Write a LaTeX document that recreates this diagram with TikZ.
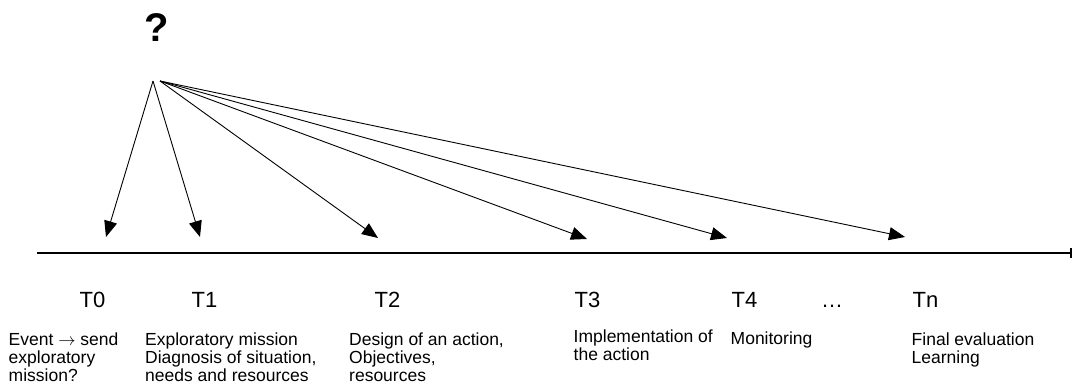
\documentclass[tikz,border=0pt]{standalone}
\usepackage{fontspec}
\setmainfont{Liberation Sans}
\usetikzlibrary{arrows.meta}

\tikzset{
    stage/.style={font=\fontsize{22}{25}\selectfont, inner sep=0pt, anchor=base west},
    info/.style={font=\fontsize{17.5}{18.3}\selectfont, inner sep=0pt, anchor=north west, align=left},
    pointer/.style={-{Triangle[length=16pt,width=13pt]}, line width=0.9pt},
}

\begin{document}
\begin{tikzpicture}[x=1pt,y=-1pt]
    \useasboundingbox (0,0) rectangle (1073,385);

    % Draw the time line
    \coordinate (start) at (37,253);
    \coordinate (end) at (1072,253);
    \draw[line width=2pt, -{Bar[width=10pt]}] (start) -- (end);

    % The question mark and the points the arrows leave from
    \node[font=\fontsize{40}{44}\selectfont\bfseries, inner sep=0pt, anchor=base] (q) at (157,42) {?};
    \coordinate (src) at (153,81);
    \coordinate (srcb) at (160,81);

    % Arrow tips just above the time line
    \foreach \name/\x/\y in {p0/106/237, p1/200/237, p2/378/238, p3/587/239, p4/727/238, pn/905/237}
        \coordinate (\name) at (\x,\y);

    % Draw the arrows
    \draw[pointer] (src) -- (p0);
    \draw[pointer] (src) -- (p1);
    \foreach \name in {p2,p3,p4,pn}
        \draw[pointer] (srcb) -- (\name);

    % Stage labels under the line
    \node[stage] (t0) at (79.5,307) {T0};
    \node[stage] (t1) at (191.5,307) {T1};
    \node[stage] (t2) at (374.5,307) {T2};
    \node[stage] (t3) at (574.5,307) {T3};
    \node[stage] (t4) at (731.5,307) {T4};
    \node[stage] (dots) at (821,307) {\dots};
    \node[stage] (tn) at (912.5,307) {Tn};

    % What happens at each stage
    \node[info] (d0) at (8.5,332.4) {Event $\rightarrow$ send\\exploratory\\mission?};
    \node[info] (d1) at (145,332.4) {Exploratory mission\\Diagnosis of situation,\\needs and resources};
    \node[info] (d2) at (349,332.4) {Design of an action,\\Objectives,\\resources};
    \node[info] (d3) at (573.5,329.4) {Implementation of\\the action};
    \node[info] (d4) at (730.5,331.4) {Monitoring};
    \node[info] (dn) at (911.5,332.4) {Final evaluation\\Learning};
\end{tikzpicture}
\end{document}
